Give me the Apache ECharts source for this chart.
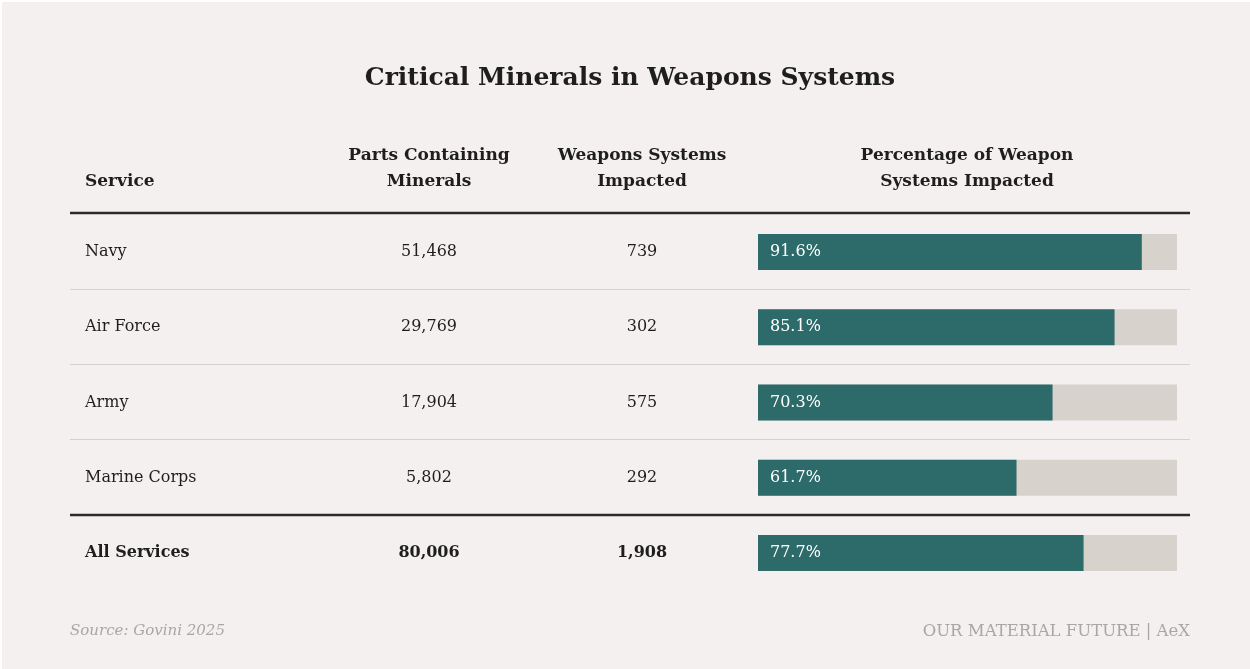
<!DOCTYPE html>
<html>
<head>
<meta charset="utf-8">
<script src="https://cdn.jsdelivr.net/npm/echarts@6/dist/echarts.min.js"></script>
<style>
  html, body { margin: 0; padding: 0; background: #ffffff; }
  #bg { position: absolute; left: 2px; top: 2px; right: 0; bottom: 0; background: #f5f0f0; }
  #chart { position: absolute; left: 0; top: 0; width: 1250px; height: 669px; }
</style>
</head>
<body>
<div id="bg"></div>
<div id="chart"></div>
<script>
const services = ['Navy', 'Air Force', 'Army', 'Marine Corps', 'All Services'];
const partsContaining = [51468, 29769, 17904, 5802, 80006];
const systemsImpacted = [739, 302, 575, 292, 1908];
const pctImpacted = [91.6, 85.1, 70.3, 61.7, 77.7];
const headers = ['Service', 'Parts Containing\nMinerals', 'Weapons Systems\nImpacted', 'Percentage of Weapon\nSystems Impacted'];

const SERIF = '"DejaVu Serif", "Liberation Serif", serif';
const fmt = v => v.toLocaleString('en-US');
const dark = '#1e1e1e';

const chart = echarts.init(document.getElementById('chart'), null, { renderer: 'canvas' });

const cell = (w, align, bold) => ({
  width: w, align: align, fontFamily: SERIF, fontSize: 16,
  fontWeight: bold ? 'bold' : 'normal', color: dark
});
const headStyle = { fontFamily: SERIF, fontSize: 17, fontWeight: 'bold', color: dark, lineHeight: 26, align: 'center' };

chart.setOption({
  backgroundColor: 'transparent',
  animation: false,
  title: [
    { text: 'Critical Minerals in Weapons Systems', left: 630, top: 66, textAlign: 'center', padding: 0,
      textStyle: { fontFamily: SERIF, fontSize: 25, fontWeight: 'bold', color: dark } },
    { text: headers[0], left: 85, top: 169, padding: 0,
      textStyle: Object.assign({}, headStyle, { align: 'left' }) },
    { text: headers[1], left: 429, top: 143, textAlign: 'center', padding: 0, textStyle: headStyle },
    { text: headers[2], left: 642, top: 143, textAlign: 'center', padding: 0, textStyle: headStyle },
    { text: headers[3], left: 967, top: 143, textAlign: 'center', padding: 0, textStyle: headStyle },
    { text: 'Source: Govini 2025', left: 70, top: 624, padding: 0,
      textStyle: { fontFamily: SERIF, fontSize: 15, fontStyle: 'italic', fontWeight: 'normal', color: '#a9a6a6' } },
    { text: 'OUR MATERIAL FUTURE | AeX', right: 60, top: 623, padding: 0,
      textStyle: { fontFamily: SERIF, fontSize: 16.5, fontWeight: 'normal', color: '#a9a6a6' } }
  ],
  graphic: [
    { type: 'line', shape: { x1: 70, y1: 213, x2: 1190, y2: 213 }, style: { stroke: '#2a2a2a', lineWidth: 2.5 } },
    { type: 'line', shape: { x1: 70, y1: 289.5, x2: 1190, y2: 289.5 }, style: { stroke: '#d6d1d1', lineWidth: 1 } },
    { type: 'line', shape: { x1: 70, y1: 364.5, x2: 1190, y2: 364.5 }, style: { stroke: '#d6d1d1', lineWidth: 1 } },
    { type: 'line', shape: { x1: 70, y1: 439.5, x2: 1190, y2: 439.5 }, style: { stroke: '#d6d1d1', lineWidth: 1 } },
    { type: 'line', shape: { x1: 70, y1: 515, x2: 1190, y2: 515 }, style: { stroke: '#2a2a2a', lineWidth: 2.5 } }
  ],
  grid: { left: 758, width: 419, top: 214.5, height: 376 },
  xAxis: { type: 'value', min: 0, max: 100, show: false },
  yAxis: {
    type: 'category', inverse: true, data: services,
    axisLine: { show: false }, axisTick: { show: false }, splitLine: { show: false },
    axisLabel: {
      margin: 32,
      formatter: (val, idx) => {
        const b = idx === services.length - 1 ? 'B' : '';
        return `{s${b}|${val}}{p${b}|${fmt(partsContaining[idx])}}{w${b}|${fmt(systemsImpacted[idx])}}`;
      },
      rich: {
        s: cell(215, 'left', false), p: cell(258, 'center', false), w: cell(168, 'center', false),
        sB: cell(215, 'left', true), pB: cell(258, 'center', true), wB: cell(168, 'center', true)
      }
    }
  },
  series: [{
    type: 'bar',
    data: pctImpacted,
    barWidth: 36,
    showBackground: true,
    backgroundStyle: { color: '#d7d2cc' },
    itemStyle: { color: '#2d6a6a' },
    label: {
      show: true, position: 'insideLeft', distance: 12,
      formatter: p => p.value.toFixed(1) + '%',
      fontFamily: SERIF, fontSize: 16, color: '#ffffff'
    }
  }]
});
</script>
</body>
</html>
